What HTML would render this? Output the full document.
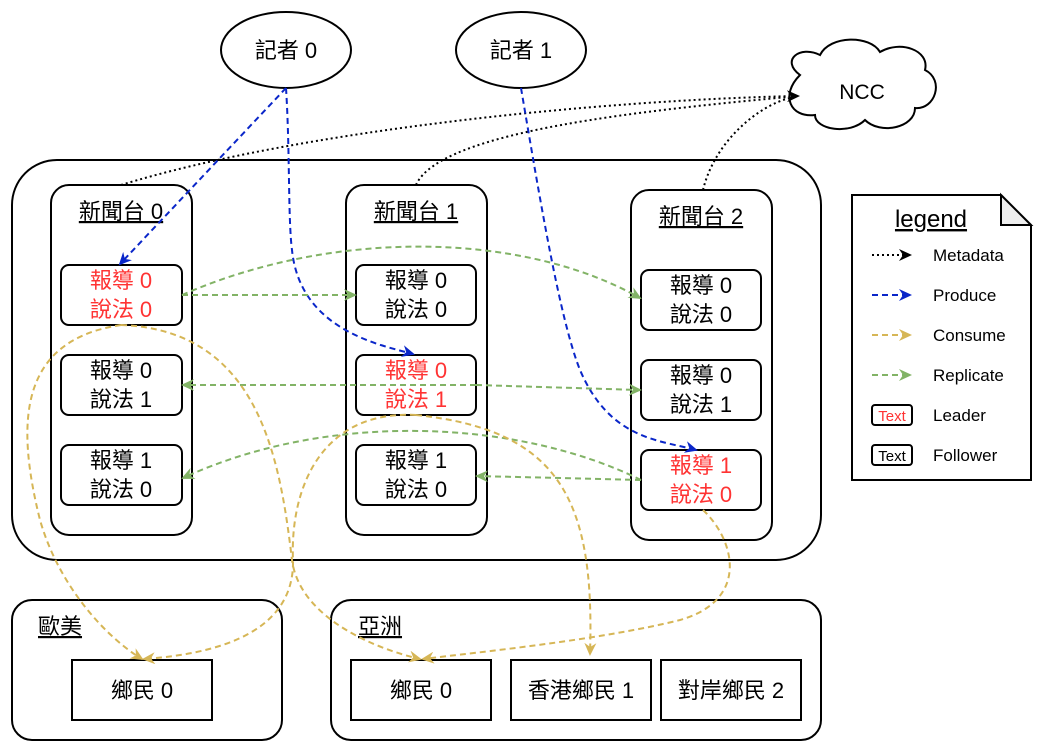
<!DOCTYPE html>
<html><head><meta charset="utf-8"><style>
body{margin:0;background:#fff;}
svg{display:block;}
text{font-family:"Liberation Sans","Noto Sans CJK TC",sans-serif;}
</style></head><body>
<svg width="1042" height="752" viewBox="0 0 1042 752" xmlns="http://www.w3.org/2000/svg">
<defs>
<marker id="ab" markerWidth="13" markerHeight="12" refX="11" refY="6" orient="auto" markerUnits="userSpaceOnUse"><path d="M0,0 L13,6 L0,12 L4,6z" fill="#000"/></marker>
<marker id="au" markerWidth="13" markerHeight="12" refX="11" refY="6" orient="auto" markerUnits="userSpaceOnUse"><path d="M0,0 L13,6 L0,12 L4,6z" fill="#0a26c9"/></marker>
<marker id="ag" markerWidth="13" markerHeight="12" refX="11" refY="6" orient="auto" markerUnits="userSpaceOnUse"><path d="M0,0 L13,6 L0,12 L4,6z" fill="#82b366"/></marker>
<marker id="ay" markerWidth="13" markerHeight="12" refX="11" refY="6" orient="auto" markerUnits="userSpaceOnUse"><path d="M0,0 L13,6 L0,12 L4,6z" fill="#d6b656"/></marker>
</defs>
<g fill="#fff" stroke="#000" stroke-width="2">
<rect x="12" y="160" width="809" height="400" rx="45"/>
<rect x="51" y="185" width="141" height="350" rx="18"/>
<rect x="346" y="185" width="141" height="350" rx="18"/>
<rect x="631" y="190" width="141" height="350" rx="18"/>
<rect x="61" y="265" width="121" height="60" rx="8"/>
<rect x="61" y="355" width="121" height="60" rx="8"/>
<rect x="61" y="445" width="121" height="60" rx="8"/>
<rect x="356" y="265" width="120" height="60" rx="8"/>
<rect x="356" y="355" width="120" height="60" rx="8"/>
<rect x="356" y="445" width="120" height="60" rx="8"/>
<rect x="641" y="270" width="120" height="60" rx="8"/>
<rect x="641" y="360" width="120" height="60" rx="8"/>
<rect x="641" y="450" width="120" height="60" rx="8"/>
<ellipse cx="286" cy="50" rx="65" ry="38"/>
<ellipse cx="521" cy="50" rx="65" ry="38"/>
<path d="M800,75 C780,60 800,45 820,55 C830,35 870,35 880,52 C900,40 930,50 925,70 C945,80 935,110 915,108 C915,128 880,135 865,120 C850,135 815,130 815,115 C790,118 780,95 800,75z"/>
<rect x="12" y="600" width="270" height="140" rx="20"/>
<rect x="331" y="600" width="490" height="140" rx="20"/>
<rect x="72" y="660" width="140" height="60"/>
<rect x="351" y="660" width="140" height="60"/>
<rect x="511" y="660" width="140" height="60"/>
<rect x="661" y="660" width="140" height="60"/>
<path d="M852,195 H1001 L1031,225 V480 H852z"/>
</g>
<path d="M1001,195 V225 H1031z" fill="#eee" stroke="#000" stroke-width="2"/>
<g font-size="22" text-anchor="middle">
<text x="286" y="58">記者 0</text>
<text x="521" y="58">記者 1</text>
<text x="862" y="99" font-size="21">NCC</text>
<text x="121" y="219" text-decoration="underline">新聞台 0</text>
<text x="416" y="219" text-decoration="underline">新聞台 1</text>
<text x="701" y="224" text-decoration="underline">新聞台 2</text>
<g fill="#ff3333"><text x="121" y="288">報導 0</text><text x="121" y="317">說法 0</text>
<text x="416" y="378">報導 0</text><text x="416" y="407">說法 1</text>
<text x="701" y="473">報導 1</text><text x="701" y="502">說法 0</text></g>
<text x="121" y="378">報導 0</text><text x="121" y="407">說法 1</text>
<text x="121" y="468">報導 1</text><text x="121" y="497">說法 0</text>
<text x="416" y="288">報導 0</text><text x="416" y="317">說法 0</text>
<text x="416" y="468">報導 1</text><text x="416" y="497">說法 0</text>
<text x="701" y="293">報導 0</text><text x="701" y="322">說法 0</text>
<text x="701" y="383">報導 0</text><text x="701" y="412">說法 1</text>
<text x="142" y="698">鄉民 0</text>
<text x="421" y="698">鄉民 0</text>
<text x="581" y="698">香港鄉民 1</text>
<text x="731" y="698">對岸鄉民 2</text>
<text x="931" y="227" font-size="24" text-decoration="underline">legend</text>
</g>
<g font-size="22"><text x="38" y="634" text-decoration="underline">歐美</text><text x="358" y="634" text-decoration="underline">亞洲</text></g>
<g font-size="17"><text x="933" y="261">Metadata</text><text x="933" y="301">Produce</text><text x="933" y="341">Consume</text><text x="933" y="381">Replicate</text><text x="933" y="421">Leader</text><text x="933" y="461">Follower</text></g>
<rect x="872" y="405" width="40" height="20" rx="3" fill="#fff" stroke="#000" stroke-width="2"/>
<rect x="872" y="445" width="40" height="20" rx="3" fill="#fff" stroke="#000" stroke-width="2"/>
<text x="892" y="421" font-size="15" text-anchor="middle" fill="#ff3333">Text</text>
<text x="892" y="461" font-size="15" text-anchor="middle">Text</text>
<g fill="none" stroke-width="2">
<line x1="872" y1="255" x2="910" y2="255" stroke="#000" stroke-dasharray="2 3" marker-end="url(#ab)"/>
<line x1="872" y1="295" x2="910" y2="295" stroke="#0a26c9" stroke-dasharray="6 4" marker-end="url(#au)"/>
<line x1="872" y1="335" x2="910" y2="335" stroke="#d6b656" stroke-dasharray="6 4" marker-end="url(#ay)"/>
<line x1="872" y1="375" x2="910" y2="375" stroke="#82b366" stroke-dasharray="6 4" marker-end="url(#ag)"/>
<g stroke="#000" stroke-dasharray="2 3">
<path d="M121,185 C300,130 600,100 798,96" marker-end="url(#ab)"/>
<path d="M416,185 C440,130 650,110 798,96"/>
<path d="M703,190 C715,140 760,105 790,98"/>
</g>
<g stroke="#0a26c9" stroke-dasharray="6 4">
<path d="M286,88 L120,264" marker-end="url(#au)"/>
<path d="M286,88 C290,150 288,220 292,250 C300,330 380,345 413,354" marker-end="url(#au)"/>
<path d="M521,88 C540,200 560,320 580,370 C610,440 660,440 696,450" marker-end="url(#au)"/>
</g>
<g stroke="#82b366" stroke-dasharray="6 4">
<path d="M182,295 L355,295" marker-end="url(#ag)"/>
<path d="M182,295 C330,230 520,230 640,298" marker-end="url(#ag)"/>
<path d="M476,385 L183,385" marker-end="url(#ag)"/>
<path d="M476,385 L640,390" marker-end="url(#ag)"/>
<path d="M641,480 L477,476" marker-end="url(#ag)"/>
<path d="M641,480 C520,420 330,410 183,478" marker-end="url(#ag)"/>
</g>
<g stroke="#d6b656" stroke-dasharray="6 4">
<path d="M121,325 C20,340 15,420 40,520 C60,590 110,640 142,659" marker-end="url(#ay)"/>
<path d="M121,325 C260,330 280,460 292,560 C300,620 380,650 420,659" marker-end="url(#ay)"/>
<path d="M416,415 C320,410 290,490 293,560 C295,640 200,655 144,659" marker-end="url(#ay)"/>
<path d="M416,415 C560,430 595,500 590,654" marker-end="url(#ay)"/>
<path d="M703,510 C735,540 750,600 680,620 C600,640 480,652 423,659" marker-end="url(#ay)"/>
</g>
</g>
</svg>
</body></html>
